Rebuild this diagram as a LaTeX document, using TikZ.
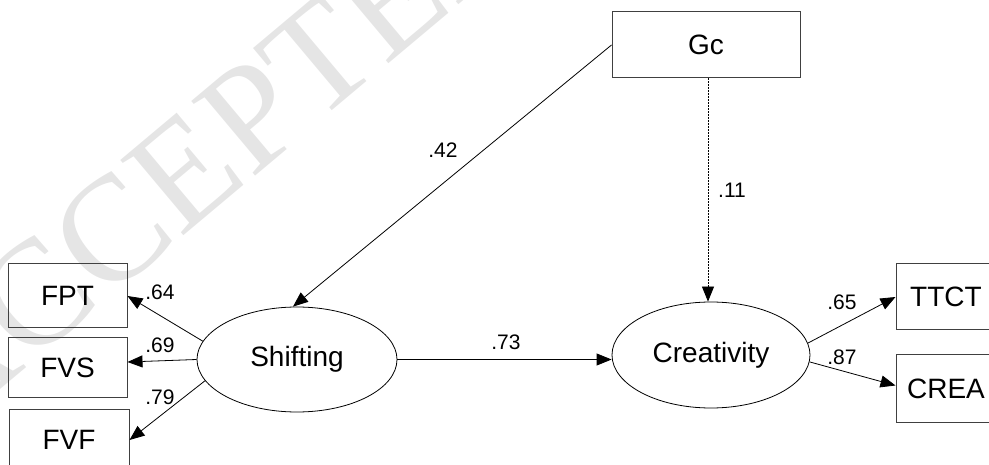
\documentclass[tikz,border=0pt]{standalone}
\usepackage{fontspec}
\setmainfont{Liberation Sans}
\newfontfamily\wmfont{Liberation Serif}
\usetikzlibrary{arrows.meta,shapes.geometric}
\begin{document}
\begin{tikzpicture}[x=1pt,y=-1pt,
  obs/.style={draw=black!75, line width=1pt, rectangle, inner sep=0pt,
    font=\fontsize{28}{30}\selectfont},
  lat/.style={draw=black, line width=0.8pt, ellipse, inner sep=0pt,
    minimum width=200pt, minimum height=105pt, font=\fontsize{28}{30}\selectfont},
  lbl/.style={inner sep=0pt, font=\fontsize{21}{23}\selectfont},
  path/.style={draw=black, line width=0.8pt, -{Triangle[length=15pt,width=12pt]}},
  wm/.style={inner sep=0pt, text=black!10, rotate=40, font=\wmfont\fontsize{150}{155}\selectfont}]
\useasboundingbox (0,0) rectangle (989,465);
\clip (0,0) rectangle (989,465);
% watermark
\node[wm] (wmark) at (210,150) {ACCEPTED};
% observed variables
\node[obs, minimum width=119pt, minimum height=64pt] (fpt) at (67.5,296) {FPT};
\node[obs, minimum width=119pt, minimum height=59pt] (fvs) at (67.5,367.5) {FVS};
\node[obs, minimum width=120pt, minimum height=62pt] (fvf) at (69,440) {FVF};
\node[obs, minimum width=188pt, minimum height=66pt] (gc) at (706,45) {Gc};
\node[obs, minimum width=100pt, minimum height=66pt] (ttct) at (946,297) {TTCT};
\node[obs, minimum width=100pt, minimum height=67pt] (crea) at (946,388.5) {CREA};
% latent variables
\node[lat] (shift) at (297,359.5) {Shifting};
\node[lat, minimum width=198pt, minimum height=106pt] (creat) at (711,355) {Creativity};
% paths
\draw[path] (gc.west) -- ([xshift=-4pt]shift.north);
\draw[path, dash pattern=on 1.5pt off 1.5pt] ([xshift=2pt]gc.south) -- ([xshift=-3pt]creat.north);
\draw[path] (shift.east) -- (shift.east -| creat.west);
\draw[path] (shift.169) -- (fpt.east);
\draw[path] (shift.west) -- ([yshift=5.5pt]fvs.east);
\draw[path] (shift.193) -- (fvf.east);
\draw[path] (creat.7.7) -- (ttct.west);
\draw[path] (creat.-4.7) -- ([yshift=3pt]crea.west);
% coefficients
\node[lbl] (l42) at (443,150) {.42};
\node[lbl] (l11) at (732,190) {.11};
\node[lbl] (l73) at (506,342) {.73};
\node[lbl] (l64) at (160,292) {.64};
\node[lbl] (l69) at (160,345) {.69};
\node[lbl] (l79) at (160,397) {.79};
\node[lbl] (l65) at (842,302) {.65};
\node[lbl] (l87) at (842,357) {.87};
\end{tikzpicture}
\end{document}
